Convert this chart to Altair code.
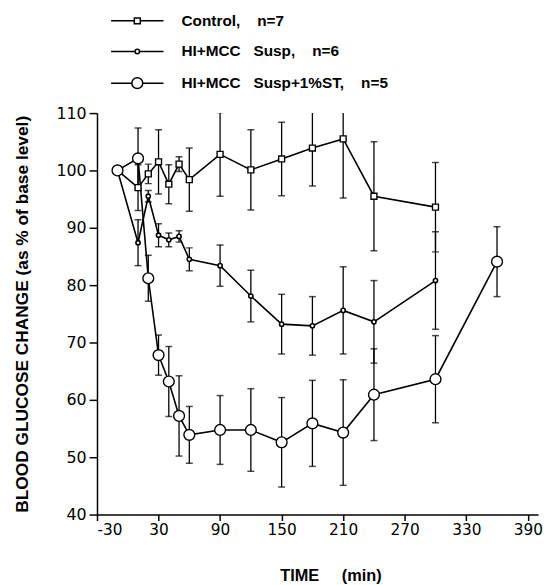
import altair as alt
import pandas as pd

# ---- data ----
series_names = ["Control,\u00a0\u00a0\u00a0\u00a0n=7",
                "HI+MCC\u00a0\u00a0\u00a0Susp,\u00a0\u00a0\u00a0\u00a0n=6",
                "HI+MCC\u00a0\u00a0\u00a0Susp+1%ST,\u00a0\u00a0\u00a0\u00a0n=5"]

control_t = [-10, 10, 20, 30, 40, 50, 60, 90, 120, 150, 180, 210, 240, 300]
control_v = [100, 97.0, 99.4, 101.5, 97.6, 101.1, 98.4, 102.8, 100.1, 102.0, 103.9, 105.5, 95.5, 93.6]
control_e = [0, 4.0, 1.7, 5.6, 3.4, 1.3, 5.5, 7.3, 7.0, 6.4, 6.6, 10.3, 9.5, 7.8]

susp_t = [-10, 10, 20, 30, 40, 50, 60, 90, 120, 150, 180, 210, 240, 300]
susp_v = [100, 87.4, 95.5, 88.7, 87.9, 88.5, 84.5, 83.4, 78.1, 73.2, 72.9, 75.6, 73.6, 80.8]
susp_e = [0, 4.0, 1.0, 2.0, 1.2, 1.0, 2.0, 3.6, 4.5, 5.2, 5.1, 7.6, 7.2, 8.5]

st_t = [-10, 10, 20, 30, 40, 50, 60, 90, 120, 150, 180, 210, 240, 300, 360]
st_v = [100, 102.1, 81.2, 67.8, 63.2, 57.2, 53.9, 54.75, 54.75, 52.6, 55.9, 54.3, 60.9, 63.6, 84.1]
st_e = [0, 5.3, 4.0, 3.5, 6.1, 7.0, 4.95, 6.0, 7.2, 7.8, 7.5, 9.2, 8.0, 7.6, 6.1]

x_ticks = list(range(-30, 391, 30))
y_ticks = list(range(40, 111, 5))

# legend symbols: line segment with the marker (custom SVG paths)
legend_paths = [
    "M-5.3,0H-0.6M0.6,0H5.3M-0.6,-0.6H0.6V0.6H-0.6Z",
    "M-5.3,0H-0.45M0.45,0H5.3M-0.45,0A0.45,0.45 0 1,0 0.45,0A0.45,0.45 0 1,0 -0.45,0Z",
    "M-5.3,0H-1.1M1.1,0H5.3M-1.1,0A1.1,1.1 0 1,0 1.1,0A1.1,1.1 0 1,0 -1.1,0Z",
]

rows = []
for name, ts, vs, es in [(series_names[0], control_t, control_v, control_e),
                         (series_names[1], susp_t, susp_v, susp_e),
                         (series_names[2], st_t, st_v, st_e)]:
    for t, v, e in zip(ts, vs, es):
        rows.append({"series": name, "t": t, "v": v, "e": e,
                     "lo": v - e, "hi": v + e})
df = pd.DataFrame(rows)

FONT = "DejaVu Sans"
BOLD = "Liberation Sans"

x_enc = alt.X("t:Q", scale=alt.Scale(domain=[-30, 400], nice=False, zero=False),
              axis=alt.Axis(values=x_ticks, title="TIME\u00a0\u00a0\u00a0\u00a0\u00a0(min)",
                            labelExpr="(datum.value + 30) % 60 == 0 ? ('' + datum.value) : ''",
                            tickSize={"condition": {"test": "(datum.value + 30) % 60 != 0", "value": 3}, "value": 6},
                            labelFont=FONT, labelFontSize=15.5, labelPadding=2,
                            titleFont=BOLD, titleFontSize=16.5, titleFontWeight="bold",
                            titleX=236, titleAlign="center",
                            titlePadding=30, grid=False))
y_scale = alt.Scale(domain=[40, 110], nice=False, zero=False)
y_enc = alt.Y("v:Q", scale=y_scale,
              axis=alt.Axis(values=y_ticks,
                            title="BLOOD GLUCOSE CHANGE (as % of base level)",
                            labelExpr="datum.value % 10 == 0 ? datum.label : ''",
                            tickSize={"condition": {"test": "datum.value % 10 != 0", "value": 3}, "value": 8},
                            labelFont=FONT, labelFontSize=16, labelPadding=3,
                            titleFont=BOLD, titleFontSize=17.5, titleFontWeight="bold",
                            titlePadding=25, grid=False))

base = alt.Chart(df)

bars = base.transform_filter("datum.e > 0").mark_rule(color="black", strokeWidth=1.3, clip=True).encode(
    x=x_enc, y=alt.Y("lo:Q", scale=y_scale), y2="hi:Q")
cap_lo = base.transform_filter("datum.e > 0").mark_tick(
    orient="horizontal", color="black", size=7, thickness=1.5, clip=True).encode(
    x="t:Q", y=alt.Y("lo:Q", scale=y_scale))
cap_hi = base.transform_filter("datum.e > 0").mark_tick(
    orient="horizontal", color="black", size=7, thickness=1.5, clip=True).encode(
    x="t:Q", y=alt.Y("hi:Q", scale=y_scale))

lines = base.mark_line(color="black", strokeWidth=1.6).encode(
    x="t:Q", y=y_enc, detail="series:N", order="t:Q")

def pts(name, shape, size, sw):
    return base.transform_filter(alt.datum.series == name).mark_point(
        shape=shape, size=size, filled=True, fill="white", stroke="black",
        strokeWidth=sw, opacity=1).encode(x="t:Q", y=alt.Y("v:Q", scale=y_scale))

p1 = pts(series_names[0], "square", 36, 1.4)
p2 = pts(series_names[1], "circle", 18, 1.6)
p3 = pts(series_names[2], "circle", 120, 1.4)

# invisible layer that only supplies the legend
legend_layer = base.transform_filter("datum.t == -10").mark_point(
    filled=False, color="black", strokeWidth=1.5, opacity=0).encode(
    x="t:Q", y=alt.Y("v:Q", scale=y_scale),
    shape=alt.Shape("series:N",
                    scale=alt.Scale(domain=series_names, range=legend_paths),
                    legend=alt.Legend(title=None, orient="none", legendX=33, legendY=-101,
                                      symbolSize=100, symbolStrokeWidth=1.5, symbolOpacity=1,
                                      symbolStrokeColor="black",
                                      labelFont=BOLD, labelFontSize=15.5, labelFontWeight="bold",
                                      labelColor="black", labelOffset=37, rowPadding=14,
                                      padding=0, labelLimit=400)))

chart = alt.layer(bars, cap_lo, cap_hi, lines, p1, p2, p3, legend_layer).properties(
    width=446, height=406,
    autosize=alt.AutoSizeParams(type="none"),
    padding={"left": 90, "top": 103, "right": 5, "bottom": 72},
).configure_view(stroke=None).configure_axis(
    domainColor="black", domainWidth=1.5, tickColor="black", tickWidth=1.5,
    labelColor="black", titleColor="black")

chart.save("out.html", embed_options={"renderer": "svg", "actions": False})
